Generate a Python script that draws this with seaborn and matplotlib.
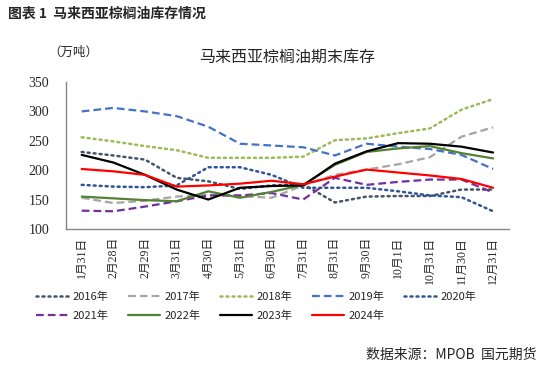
import numpy as np
import pandas as pd
import matplotlib
matplotlib.use('Agg')
import matplotlib.pyplot as plt
import seaborn as sns

sns.set_style('white')
plt.rcParams['font.family'] = ['Noto Sans CJK SC', 'DejaVu Sans']

# 日期类别
dates = ['1月31日', '2月28日', '2月29日', '3月31日', '4月30日', '5月31日', '6月30日',
         '7月31日', '8月31日', '9月30日', '10月1日', '10月31日', '11月30日', '12月31日']

# 各年库存（万吨）
y2016 = [231, 225, 218, 187, 181, 168, 174, 176, 145, 155, 156, 156, 167, 167]
y2017 = [153, 144, 148, 155, 158, 156, 153, 174, 192, 201, 210, 222, 257, 273]
y2018 = [256, 249, 241, 234, 221, 221, 221, 223, 251, 254, 263, 271, 303, 321]
y2019 = [300, 306, 300, 292, 274, 245, 242, 239, 225, 245, 240, 236, 226, 202]
y2020 = [175, 172, 171, 174, 205, 205, 192, 170, 170, 170, 164, 157, 154, 130]
y2021 = [131, 130, 138, 147, 157, 157, 161, 150, 187, 175, 180, 184, 184, 162]
y2022 = [155, 152, 149, 147, 164, 153, 163, 175, 209, 231, 237, 241, 229, 220]
y2023 = [226, 213, 192, 167, 150, 170, 173, 174, 211, 232, 246, 245, 240, 230]
y2024 = [202, 198, 192, 172, 174, 177, 182, 176, 189, 201, 196, 191, 185, 170]

years = ['2016年', '2017年', '2018年', '2019年', '2020年', '2021年', '2022年', '2023年', '2024年']
values = [y2016, y2017, y2018, y2019, y2020, y2021, y2022, y2023, y2024]

dot = (0, (0.8, 1.6))
dash = (0, (3.5, 1.8))
styles = {
    '2016年': ('#44546A', dot),
    '2017年': ('#A5A5A5', dash),
    '2018年': ('#9BBB59', dot),
    '2019年': ('#4472C4', dash),
    '2020年': ('#2F5597', dot),
    '2021年': ('#7030A0', dash),
    '2022年': ('#548235', '-'),
    '2023年': ('#000000', '-'),
    '2024年': ('#FF0000', '-'),
}

fig = plt.figure(figsize=(5.49, 3.68), dpi=100)
ax = fig.add_axes([0.120, 0.378, 0.807, 0.399])

x = np.arange(len(dates))
for name, vals in zip(years, values):
    c, ls = styles[name]
    sns.lineplot(x=x, y=vals, ax=ax, color=c, linewidth=1.6, label=name,
                 sort=False)
    line = ax.lines[-1]
    line.set_linestyle(ls)
    if ls == dot:
        line.set_dash_capstyle('round')
        line.set_linewidth(1.8)

ax.set_xlim(-0.5, len(dates) - 0.5)
ax.set_ylim(100, 350)
ax.set_yticks(range(100, 351, 50))
ax.set_xticks(x)
ax.set_xticklabels(dates, rotation=90, family=['Liberation Serif', 'Noto Sans CJK SC'],
                   fontsize=8.5)
ax.set_xticks(np.arange(-0.5, len(dates), 1), minor=True)
ax.tick_params(axis='x', which='major', length=0, pad=6)
ax.tick_params(axis='x', which='minor', length=4, color='#868686', direction='out')
ax.tick_params(axis='y', length=0, pad=12)
for t in ax.get_yticklabels():
    t.set_family('Liberation Serif')
    t.set_fontsize(10)

sns.despine(ax=ax)
for s in ['left', 'bottom']:
    ax.spines[s].set_color('#868686')
    ax.spines[s].set_linewidth(1)
ax.set_xlabel('')
ax.set_ylabel('')

# 图例按行排列
handles, labels = ax.get_legend_handles_labels()
order = [0, 5, 1, 6, 2, 7, 3, 8, 4]
ax.legend([handles[i] for i in order], [labels[i] for i in order],
          loc='upper left', bbox_to_anchor=(36 / 549, 1 - 292 / 368),
          bbox_transform=fig.transFigure, ncol=5, frameon=False, fontsize=8,
          handlelength=2.9, columnspacing=1.75, handletextpad=0.4,
          labelspacing=0.75, borderaxespad=0, borderpad=0)

fig.text(0.015, 0.962, '图表 1  马来西亚棕榈油库存情况', fontsize=10, fontweight='bold',
         va='center', ha='left')
fig.text(0.088, 0.857, '（万吨）', fontsize=9, va='center', ha='left')
fig.text(0.523, 0.845, '马来西亚棕榈油期末库存', fontsize=11.5, va='center', ha='center')
fig.text(0.978, 0.035, '数据来源：MPOB  国元期货', fontsize=10, va='center', ha='right')

fig.savefig('out.png', dpi=100)
